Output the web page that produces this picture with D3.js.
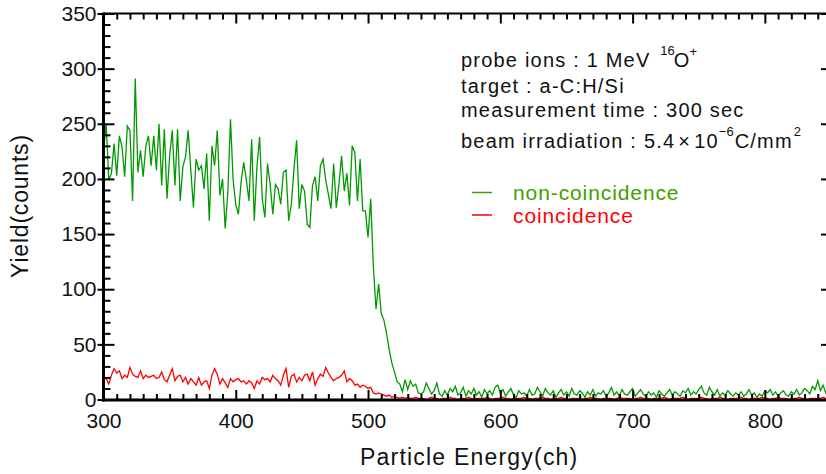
<!DOCTYPE html>
<html>
<head>
<meta charset="utf-8">
<script src="https://cdn.jsdelivr.net/npm/d3@7"></script>
<style>
  html, body { margin: 0; padding: 0; background: #fff; }
  svg { display: block; }
  text { font-family: "Liberation Sans", Arial, sans-serif; fill: #111; }
</style>
</head>
<body>
<svg id="chart" width="826" height="474"></svg>
<script>
// Channel grid (ch), every 2 channels from 300 to 850
const channels = d3.range(300, 851, 2);

// Yield (counts) per channel, non-coincidence spectrum
const nonCoincidence = [
  225,250,199,205,232,203,239,229,202,248,
  244,180,291,206,226,202,230,239,212,239,
  208,250,194,245,182,221,244,194,245,180,
  211,220,244,208,174,218,208,212,191,223,
  162,230,212,244,185,200,155,188,254,199,
  177,168,197,215,199,180,236,162,211,238,
  182,165,214,195,168,195,191,177,206,208,
  162,177,209,235,173,195,189,159,156,194,
  202,180,212,218,199,186,173,214,174,195,
  221,189,205,176,230,224,180,218,171,171,
  147,182,121,82,105,78,72,60,45,33,
  25,16,14,7,18,9,17,12,14,6,
  5,7,15,10,5,8,15,5,3,8,
  4,10,7,12,4,6,11,3,8,5,
  10,4,7,2,9,5,8,4,11,13,
  6,9,3,7,10,4,2,8,5,6,
  3,9,4,5,11,7,3,10,6,4,
  8,2,6,9,4,7,3,10,5,4,
  8,6,2,7,4,9,3,6,5,8,
  3,6,11,4,7,3,9,5,4,7,
  10,3,6,9,5,3,7,4,6,2,
  8,5,3,6,9,4,7,5,3,8,
  6,10,4,7,5,9,12,6,4,11,
  7,4,9,3,6,4,8,5,3,6,
  4,7,3,5,9,4,6,2,5,3,
  8,6,9,4,7,3,6,8,4,3,
  7,5,9,4,6,10,8,5,12,9,
  17,8,13,6,10,7
];

// Yield (counts) per channel, coincidence spectrum
const coincidence = [
  20,19,14,22,28,24,26,19,22,20,
  29,23,21,20,26,19,22,20,21,22,
  19,20,25,18,16,22,28,17,21,22,
  16,20,14,19,16,13,20,13,16,17,
  10,22,28,23,14,19,15,11,19,16,
  18,19,16,17,14,17,15,10,17,14,
  20,18,19,16,22,19,17,13,22,28,
  11,21,23,16,20,17,22,23,17,25,
  13,19,23,21,29,24,20,17,19,20,
  22,26,16,19,17,13,14,11,13,12,
  10,11,6,5,6,5,4,3,4,2,
  3,2,1,2,1,2,1,1,2,1,
  1,1,0,1,2,1,1,0,1,1,
  1,2,1,1,0,1,1,1,2,1,
  0,1,1,1,1,2,1,0,1,1,
  1,2,1,1,0,1,1,1,1,2,
  1,1,0,1,1,1,2,1,1,0,
  1,1,1,2,1,1,0,1,1,1,
  1,0,1,1,2,1,1,1,0,1,
  1,1,1,0,1,2,1,1,1,1,
  0,1,1,2,1,1,1,0,1,1,
  1,1,2,1,0,1,1,1,1,2,
  1,0,1,1,1,1,2,1,1,0,
  1,1,1,2,1,1,0,1,1,1,
  1,2,1,1,0,1,1,1,1,2,
  1,1,0,1,1,2,1,1,1,0,
  1,1,1,2,1,1,0,1,1,1,
  1,1,2,1,1,1
];

// Axis ticks
const xMajor = [300, 400, 500, 600, 700, 800];
const xMinor = d3.range(300, 851, 10).filter(v => v % 100 !== 0);
const yMajor = [0, 50, 100, 150, 200, 250, 300, 350];
const yMinor = d3.range(0, 351, 10).filter(v => v % 50 !== 0);

const seriesNames = ["non-coincidence", "coincidence"];
const lineColors = ["#009900", "#ff0000"];
const legendColors = ["#3f9f00", "#ff0000"];

const svg = d3.select("#chart");
const pLeft = 103.5, pRight = 831, pTop = 13.5, pBottom = 399.5;

const x = d3.scaleLinear().domain([300, 850]).range([pLeft, pRight]);
const y = d3.scaleLinear().domain([0, 350]).range([pBottom, pTop]);

svg.append("rect").attr("width", 826).attr("height", 474).attr("fill", "#fff");

// clip for traces
svg.append("clipPath").attr("id", "plot")
  .append("rect").attr("x", pLeft).attr("y", pTop).attr("width", pRight - pLeft).attr("height", pBottom - pTop + 1);

const line = d3.line().x((d, i) => x(channels[i])).y(d => y(d));

const traces = svg.append("g").attr("clip-path", "url(#plot)");
traces.append("path").datum(nonCoincidence)
  .attr("d", line).attr("fill", "none").attr("stroke", lineColors[0]).attr("stroke-width", 1.3);
traces.append("path").datum(coincidence)
  .attr("d", line).attr("fill", "none").attr("stroke", lineColors[1]).attr("stroke-width", 1.3);

// axes helper: strips domain path and styles ticks
function styleAxis(g) {
  g.select(".domain").remove();
  g.selectAll(".tick line").attr("stroke", "#000").attr("stroke-width", 2);
  g.selectAll(".tick text").attr("fill", "#111").attr("font-size", 21)
    .attr("font-family", "'Liberation Sans', Arial, sans-serif");
}

// bottom
svg.append("g").attr("transform", `translate(0,${pBottom + 0.5})`)
  .call(d3.axisBottom(x).tickValues(xMajor).tickSize(-10).tickPadding(13).tickFormat(d3.format("d")))
  .call(styleAxis);
svg.append("g").attr("transform", `translate(0,${pBottom + 0.5})`)
  .call(d3.axisBottom(x).tickValues(xMinor).tickSize(-6).tickFormat(""))
  .call(styleAxis);
// top
svg.append("g").attr("transform", `translate(0,${pTop})`)
  .call(d3.axisTop(x).tickValues(xMajor).tickSize(-10).tickFormat(""))
  .call(styleAxis);
svg.append("g").attr("transform", `translate(0,${pTop})`)
  .call(d3.axisTop(x).tickValues(xMinor).tickSize(-6).tickFormat(""))
  .call(styleAxis);
// left
const gl = svg.append("g").attr("transform", `translate(${pLeft},0)`)
  .call(d3.axisLeft(y).tickValues(yMajor).tickSize(-11).tickPadding(7).tickFormat(d3.format("d")))
  .call(styleAxis);
gl.selectAll(".tick line").attr("x1", -6);
svg.append("g").attr("transform", `translate(${pLeft},0)`)
  .call(d3.axisLeft(y).tickValues(yMinor).tickSize(-7).tickFormat(""))
  .call(styleAxis);
// right
svg.append("g").attr("transform", `translate(${pRight},0)`)
  .call(d3.axisRight(y).tickValues(yMajor).tickSize(-10).tickFormat(""))
  .call(styleAxis);
svg.append("g").attr("transform", `translate(${pRight},0)`)
  .call(d3.axisRight(y).tickValues(yMinor).tickSize(-5).tickFormat(""))
  .call(styleAxis);

// frame
svg.append("line").attr("x1", pLeft).attr("x2", pLeft).attr("y1", pTop - 1).attr("y2", pBottom + 2)
  .attr("stroke", "#000").attr("stroke-width", 3);
svg.append("line").attr("x1", pLeft - 1.5).attr("x2", pRight).attr("y1", pBottom + 0.5).attr("y2", pBottom + 0.5)
  .attr("stroke", "#000").attr("stroke-width", 3);
svg.append("line").attr("x1", pLeft).attr("x2", pRight).attr("y1", pTop).attr("y2", pTop)
  .attr("stroke", "#000").attr("stroke-width", 2);
svg.append("line").attr("x1", pRight).attr("x2", pRight).attr("y1", pTop).attr("y2", pBottom)
  .attr("stroke", "#000").attr("stroke-width", 2);

// axis titles
svg.append("text").attr("x", (pLeft + pRight) / 2 + 2).attr("y", 465)
  .attr("text-anchor", "middle").attr("font-size", 23).attr("letter-spacing", 1.2)
  .text("Particle Energy(ch)");
svg.append("text").attr("transform", `translate(28,206) rotate(-90)`)
  .attr("text-anchor", "middle").attr("font-size", 23).attr("letter-spacing", 0.8)
  .text("Yield(counts)");

// measurement notes
const notes = svg.append("g").attr("font-size", 20).attr("letter-spacing", 1.2);
const n1 = notes.append("text").attr("x", 461).attr("y", 67);
n1.append("tspan").text("probe ions : 1 MeV ");
n1.append("tspan").attr("font-size", 13).attr("dy", -12).attr("dx", 3).attr("letter-spacing", 0).text("16");
n1.append("tspan").attr("dy", 12).attr("dx", -1).text("O");
n1.append("tspan").attr("font-size", 13).attr("dy", -11).attr("dx", -1).text("+");

notes.append("text").attr("x", 461).attr("y", 93).text("target : a-C:H/Si");
notes.append("text").attr("x", 461).attr("y", 117).text("measurement time : 300 sec");

const n4 = notes.append("text").attr("x", 461).attr("y", 148);
n4.append("tspan").text("beam irradiation : 5.4");
n4.append("tspan").attr("dx", 3).text("\u00d7");
n4.append("tspan").attr("dx", 3).text("10");
n4.append("tspan").attr("font-size", 13).attr("dy", -12).attr("letter-spacing", 0).text("\u22126");
n4.append("tspan").attr("dy", 12).attr("dx", 1).text("C/mm");
n4.append("tspan").attr("font-size", 13).attr("dy", -12).attr("dx", 1).text("2");

// legend
const legend = svg.append("g");
seriesNames.forEach((name, i) => {
  const ly = 192.5 + i * 22.5;
  legend.append("line").attr("x1", 472).attr("x2", 492).attr("y1", ly).attr("y2", ly)
    .attr("stroke", legendColors[i]).attr("stroke-width", 1.5);
  legend.append("text").attr("x", 513).attr("y", ly + 7.5)
    .attr("font-size", 21).attr("letter-spacing", 0.9)
    .style("fill", legendColors[i]).text(name);
});
</script>
</body>
</html>
